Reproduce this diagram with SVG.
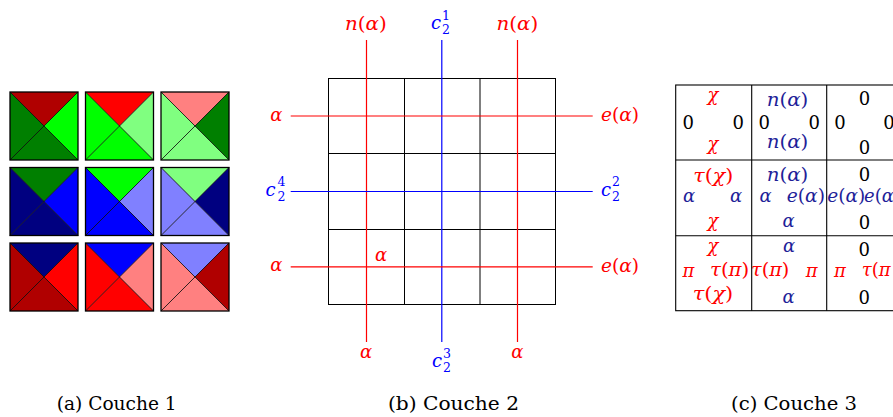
<svg xmlns="http://www.w3.org/2000/svg" xmlns:xlink="http://www.w3.org/1999/xlink" width="893" height="417" viewBox="0 0 893 417">
<style>
.m{font-family:"DejaVu Serif",serif;font-style:italic;font-size:18px}
.u{font-style:normal}
.s{font-family:"DejaVu Serif",serif;font-style:normal;font-size:12.5px}
.cap{font-family:"DejaVu Serif",serif;font-size:18px;fill:#000}
.red{fill:#ff0000}.blu{fill:#0000ff}.nav{fill:#1f1f99}.blk{fill:#000}
.grid{fill:none;stroke:#000;stroke-width:1}
.lr{stroke:#ff0000;stroke-width:1.2;fill:none}
.lb{stroke:#0000ff;stroke-width:1.2;fill:none}
.tile{fill:none;stroke:#000;stroke-width:1.3}
.diag{stroke:#000;stroke-width:0.8}
.tab{fill:none;stroke:#000;stroke-width:1.1}
</style>
<defs>
<polygon id="tT" points="0,0 68,0 34,34"/>
<polygon id="tR" points="68,0 68,68 34,34"/>
<polygon id="tB" points="0,68 68,68 34,34"/>
<polygon id="tL" points="0,0 0,68 34,34"/>
<g id="tOut"><line class="diag" x1="0" y1="0" x2="68" y2="68"/><line class="diag" x1="68" y1="0" x2="0" y2="68"/><rect class="tile" x="0" y="0" width="68" height="68"/></g>
</defs>
<rect width="893" height="417" fill="#fff"/>

<!-- Panel (a) -->
<g id="panel-a">
<g id="tile11" transform="translate(10,92)"><use href="#tT" fill="#b00000"/><use href="#tR" fill="#00ff00"/><use href="#tB" fill="#007f00"/><use href="#tL" fill="#007f00"/><use href="#tOut"/></g>
<g id="tile12" transform="translate(85.5,92)"><use href="#tT" fill="#ff0000"/><use href="#tR" fill="#80ff80"/><use href="#tB" fill="#00ff00"/><use href="#tL" fill="#00ff00"/><use href="#tOut"/></g>
<g id="tile13" transform="translate(161,92)"><use href="#tT" fill="#ff8080"/><use href="#tR" fill="#007f00"/><use href="#tB" fill="#80ff80"/><use href="#tL" fill="#80ff80"/><use href="#tOut"/></g>
<g id="tile21" transform="translate(10,167.5)"><use href="#tT" fill="#007f00"/><use href="#tR" fill="#0000ff"/><use href="#tB" fill="#000080"/><use href="#tL" fill="#000080"/><use href="#tOut"/></g>
<g id="tile22" transform="translate(85.5,167.5)"><use href="#tT" fill="#00ff00"/><use href="#tR" fill="#8080ff"/><use href="#tB" fill="#0000ff"/><use href="#tL" fill="#0000ff"/><use href="#tOut"/></g>
<g id="tile23" transform="translate(161,167.5)"><use href="#tT" fill="#80ff80"/><use href="#tR" fill="#000080"/><use href="#tB" fill="#8080ff"/><use href="#tL" fill="#8080ff"/><use href="#tOut"/></g>
<g id="tile31" transform="translate(10,243)"><use href="#tT" fill="#000080"/><use href="#tR" fill="#ff0000"/><use href="#tB" fill="#b00000"/><use href="#tL" fill="#b00000"/><use href="#tOut"/></g>
<g id="tile32" transform="translate(85.5,243)"><use href="#tT" fill="#0000ff"/><use href="#tR" fill="#ff8080"/><use href="#tB" fill="#ff0000"/><use href="#tL" fill="#ff0000"/><use href="#tOut"/></g>
<g id="tile33" transform="translate(161,243)"><use href="#tT" fill="#8080ff"/><use href="#tR" fill="#b00000"/><use href="#tB" fill="#ff8080"/><use href="#tL" fill="#ff8080"/><use href="#tOut"/></g>
<text id="cap-a" class="cap" x="56.7" y="410" textLength="120" lengthAdjust="spacingAndGlyphs">(a) Couche 1</text>
</g>

<!-- Panel (b) -->
<g id="panel-b">
<g id="grid">
<rect class="grid" x="328.5" y="78.5" width="227" height="226"/>
<line class="grid" x1="404.5" y1="78.5" x2="404.5" y2="304.5"/>
<line class="grid" x1="480" y1="78.5" x2="480" y2="304.5"/>
<line class="grid" x1="328.5" y1="153.5" x2="555.5" y2="153.5"/>
<line class="grid" x1="328.5" y1="229.5" x2="555.5" y2="229.5"/>
</g>
<g id="connectors">
<line class="lr" x1="366.5" y1="40" x2="366.5" y2="342"/>
<line class="lb" x1="441.8" y1="40" x2="441.8" y2="342"/>
<line class="lr" x1="517.5" y1="40" x2="517.5" y2="342"/>
<line class="lr" x1="290.7" y1="116" x2="592.7" y2="116"/>
<line class="lb" x1="290.7" y1="191.5" x2="592.7" y2="191.5"/>
<line class="lr" x1="290.7" y1="266.8" x2="592.7" y2="266.8"/>
</g>
<g id="labels-b">
<text class="m red" x="345" y="29.5" textLength="41.7" lengthAdjust="spacingAndGlyphs">n<tspan class="u">(</tspan>α<tspan class="u">)</tspan></text>
<text class="m red" x="496.5" y="29.5" textLength="41.7" lengthAdjust="spacingAndGlyphs">n<tspan class="u">(</tspan>α<tspan class="u">)</tspan></text>
<g id="c21"><text class="m blu" x="431" y="29">c</text><text class="s blu" x="442" y="19.5">1</text><text class="s blu" x="442" y="33.5">2</text></g>
<text class="m red" x="282.3" y="120.5" text-anchor="end">α</text>
<text class="m red" x="601" y="121" textLength="38" lengthAdjust="spacingAndGlyphs">e<tspan class="u">(</tspan>α<tspan class="u">)</tspan></text>
<g id="c24"><text class="m blu" x="265.5" y="195.5">c</text><text class="s blu" x="277.5" y="186">4</text><text class="s blu" x="277.5" y="200.5">2</text></g>
<g id="c22"><text class="m blu" x="601" y="195.5">c</text><text class="s blu" x="612" y="186">2</text><text class="s blu" x="612" y="200.5">2</text></g>
<text class="m red" x="282.3" y="271" text-anchor="end">α</text>
<text class="m red" x="601" y="271.5" textLength="38" lengthAdjust="spacingAndGlyphs">e<tspan class="u">(</tspan>α<tspan class="u">)</tspan></text>
<text class="m red" x="375" y="260.5">α</text>
<text class="m red" x="366" y="358" text-anchor="middle">α</text>
<text class="m red" x="517.3" y="358" text-anchor="middle">α</text>
<g id="c23"><text class="m blu" x="432" y="366.7">c</text><text class="s blu" x="443" y="357.5">3</text><text class="s blu" x="443" y="371.5">2</text></g>
</g>
<text id="cap-b" class="cap" x="388" y="410" textLength="131" lengthAdjust="spacingAndGlyphs">(b) Couche 2</text>
</g>

<!-- Panel (c) -->
<g id="panel-c">
<g id="table">
<rect class="tab" x="675.7" y="85" width="226" height="225.7"/>
<line class="tab" x1="751.7" y1="85" x2="751.7" y2="310.7"/>
<line class="tab" x1="826.7" y1="85" x2="826.7" y2="310.7"/>
<line class="tab" x1="675.7" y1="160" x2="901.7" y2="160"/>
<line class="tab" x1="675.7" y1="235.7" x2="901.7" y2="235.7"/>
</g>
<g id="cell11">
<text class="m red" x="713" y="101" text-anchor="middle">χ</text>
<text class="m blk u" x="688.3" y="129" text-anchor="middle">0</text>
<text class="m blk u" x="738.3" y="129" text-anchor="middle">0</text>
<text class="m red" x="713" y="149.5" text-anchor="middle">χ</text>
</g>
<g id="cell12">
<text class="m nav" x="766.7" y="105.5" textLength="41.6" lengthAdjust="spacingAndGlyphs">n<tspan class="u">(</tspan>α<tspan class="u">)</tspan></text>
<text class="m blk u" x="764.3" y="129" text-anchor="middle">0</text>
<text class="m blk u" x="814.3" y="129" text-anchor="middle">0</text>
<text class="m nav" x="766.7" y="147.5" textLength="41.6" lengthAdjust="spacingAndGlyphs">n<tspan class="u">(</tspan>α<tspan class="u">)</tspan></text>
</g>
<g id="cell13">
<text class="m blk u" x="864.5" y="105" text-anchor="middle">0</text>
<text class="m blk u" x="840" y="129" text-anchor="middle">0</text>
<text class="m blk u" x="889" y="129" text-anchor="middle">0</text>
<text class="m blk u" x="864.5" y="154" text-anchor="middle">0</text>
</g>
<g id="cell21">
<text class="m red" x="693.3" y="182" textLength="40" lengthAdjust="spacingAndGlyphs">τ<tspan class="u">(</tspan>χ<tspan class="u">)</tspan></text>
<text class="m nav" x="689" y="201.7" text-anchor="middle">α</text>
<text class="m nav" x="736" y="201.7" text-anchor="middle">α</text>
<text class="m red" x="713" y="226.5" text-anchor="middle">χ</text>
</g>
<g id="cell22">
<text class="m nav" x="766.7" y="180.5" textLength="41.6" lengthAdjust="spacingAndGlyphs">n<tspan class="u">(</tspan>α<tspan class="u">)</tspan></text>
<text class="m nav" x="765.7" y="202" text-anchor="middle">α</text>
<text class="m nav" x="786.7" y="202" textLength="38.3" lengthAdjust="spacingAndGlyphs">e<tspan class="u">(</tspan>α<tspan class="u">)</tspan></text>
<text class="m nav" x="788.7" y="227.3" text-anchor="middle">α</text>
</g>
<g id="cell23">
<text class="m blk u" x="864.5" y="181" text-anchor="middle">0</text>
<text class="m nav" x="827.3" y="202" textLength="38" lengthAdjust="spacingAndGlyphs">e<tspan class="u">(</tspan>α<tspan class="u">)</tspan></text>
<text class="m nav" x="864" y="202">e<tspan class="u">(</tspan>α</text>
<text class="m blk u" x="864.5" y="229.3" text-anchor="middle">0</text>
</g>
<g id="cell31">
<text class="m red" x="713" y="251.5" text-anchor="middle">χ</text>
<text class="m red" x="688.3" y="276.5" text-anchor="middle">π</text>
<text class="m red" x="710" y="276" textLength="39.3" lengthAdjust="spacingAndGlyphs">τ<tspan class="u">(</tspan>π<tspan class="u">)</tspan></text>
<text class="m red" x="692.7" y="299.5" textLength="40.6" lengthAdjust="spacingAndGlyphs">τ<tspan class="u">(</tspan>χ<tspan class="u">)</tspan></text>
</g>
<g id="cell32">
<text class="m nav" x="789" y="251.7" text-anchor="middle">α</text>
<text class="m red" x="751" y="276" textLength="38.3" lengthAdjust="spacingAndGlyphs">τ<tspan class="u">(</tspan>π<tspan class="u">)</tspan></text>
<text class="m red" x="811.7" y="276.5" text-anchor="middle">π</text>
<text class="m nav" x="788.7" y="303" text-anchor="middle">α</text>
</g>
<g id="cell33">
<text class="m blk u" x="864.3" y="255.7" text-anchor="middle">0</text>
<text class="m red" x="840" y="277" text-anchor="middle">π</text>
<text class="m red" x="861.7" y="276">τ<tspan class="u">(</tspan>π</text>
<text class="m blk u" x="864.3" y="304.3" text-anchor="middle">0</text>
</g>
<text id="cap-c" class="cap" x="731" y="410" textLength="126" lengthAdjust="spacingAndGlyphs">(c) Couche 3</text>
</g>
</svg>
